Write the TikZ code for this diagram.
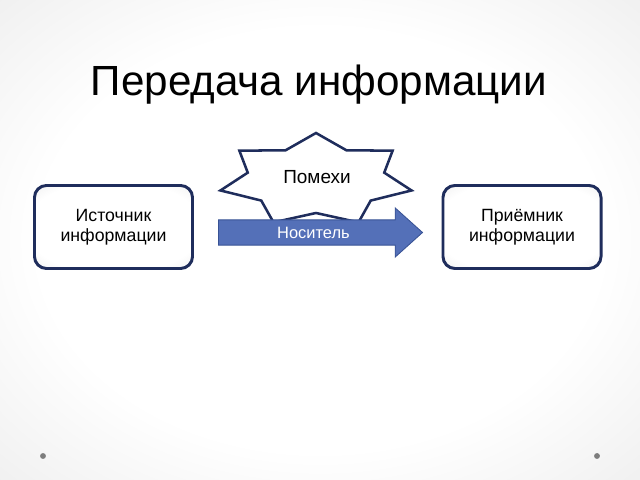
\documentclass[tikz,border=0pt]{standalone}
\usepackage{fontspec}
\setmainfont{Liberation Sans}
\usetikzlibrary{shapes.arrows, positioning, calc}
\definecolor{slideNavy}{RGB}{31, 45, 92}
\definecolor{slideBlue}{RGB}{84, 112, 184}
\definecolor{slideBlueDark}{RGB}{56, 82, 148}
\definecolor{slideDot}{RGB}{125, 125, 125}
\pgfdeclareradialshading{slideback}{\pgfpoint{0bp}{0bp}}{color(0bp)=(white); color(22bp)=(white); color(50bp)=(gray!24); color(72bp)=(gray!45)}
\pgfdeclareradialshading{boxfill}{\pgfpoint{0bp}{0bp}}{color(0bp)=(white); color(28bp)=(white); color(50bp)=(gray!30); color(72bp)=(gray!40)}

\begin{document}
\begin{tikzpicture}[
        x=0.025cm, y=0.025cm,
        title/.style={font=\fontsize{30}{36}\selectfont, text=black},
        party/.style={rectangle, rounded corners=0.3cm, draw=slideNavy, line width=2.1pt, shading=boxfill, minimum width=3.95cm, minimum height=2.075cm, align=center, font=\fontsize{12.6}{14}\selectfont},
        carrier/.style={single arrow, draw=slideBlueDark, fill=slideBlue, line width=0.6pt, minimum height=5.1cm, inner ysep=4.6pt, single arrow head extend=8.5pt, single arrow tip angle=84, text=white, font=\fontsize{11.7}{14}\selectfont},
        noisestar/.style={draw=slideNavy, fill=white, line width=1.8pt, line join=miter},
        dot/.style={fill=slideDot}
    ]
        % Background
        \useasboundingbox (0,0) rectangle (640,480);
        \shade[shading=slideback] (0,0) rectangle (640,480);
        \fill[dot] (43,24) circle (2.1pt);
        \fill[dot] (597,24) circle (2.1pt);

        % Title
        \node[title, anchor=base] (head) at (319,384) {Передача информации};

        % Parties
        \node[party] (src) at (113.5,253) {Источник\\информации};
        \node[party] (dst) at (522,253) {Приёмник\\информации};

        % Noise
        \coordinate (noisec) at (316,300);
        \draw[noisestar] ($(noisec)+(90:98 and 47)$)
            \foreach \i [evaluate=\i as \a using 90+\i*180/7,
                         evaluate=\i as \rx using {mod(\i,2)==0 ? 98 : 70},
                         evaluate=\i as \ry using {mod(\i,2)==0 ? 47 : 33}] in {1,...,13}
            { -- ($(noisec)+(\a:{\rx} and {\ry})$) } -- cycle;
        \node[font=\fontsize{13.5}{16}\selectfont] (noise) at (317,303) {Помехи};

        % Carrier
        \node[carrier, anchor=west] (medium) at (218,247.5) {Носитель};
    \end{tikzpicture}
\end{document}
